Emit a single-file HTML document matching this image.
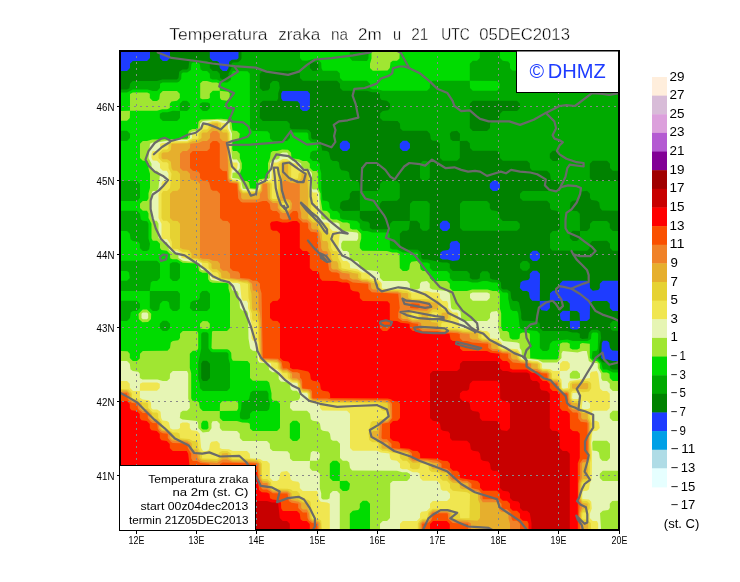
<!DOCTYPE html>
<html><head><meta charset="utf-8"><style>
html,body{margin:0;padding:0;background:#fff;}
svg{display:block;}
text{font-family:"Liberation Sans",sans-serif;fill:#000;}
.dh{stroke:none;}
.ax{font-size:11px;}
.cb{font-size:12.4px;}
.lg{font-size:10.2px;}
.dh{font-size:20.5px;fill:#1e3cff;}
.tt{font-size:16px;stroke:#fff;stroke-width:0.35px;}
</style></head><body>
<svg width="740" height="582" viewBox="0 0 740 582">
<rect width="740" height="582" fill="#fff"/>
<text x="169.3" y="39.8" class="tt" textLength="98.2" lengthAdjust="spacingAndGlyphs">Temperatura</text><text x="278.2" y="39.8" class="tt" textLength="42.0" lengthAdjust="spacingAndGlyphs">zraka</text><text x="330.9" y="39.8" class="tt" textLength="17.0" lengthAdjust="spacingAndGlyphs">na</text><text x="357.9" y="39.8" class="tt" textLength="23.7" lengthAdjust="spacingAndGlyphs">2m</text><text x="393.1" y="39.8" class="tt" textLength="8.1" lengthAdjust="spacingAndGlyphs">u</text><text x="411.3" y="39.8" class="tt" textLength="17.0" lengthAdjust="spacingAndGlyphs">21</text><text x="441.3" y="39.8" class="tt" textLength="28.4" lengthAdjust="spacingAndGlyphs">UTC</text><text x="479.2" y="39.8" class="tt" textLength="90.7" lengthAdjust="spacingAndGlyphs">05DEC2013</text>
<svg x="121" y="52" width="497" height="477" viewBox="121 52 497 477" overflow="hidden">
<rect x="120" y="51" width="500" height="480" fill="#1e3cff"/><path fill="#008200" fill-rule="evenodd" d="M120.0 71.0 120.0 530.8 619.8 530.8 619.8 361.0 612.8 361.0 607.5 359.5 602.8 359.5 601.2 358.0 601.8 343.2 603.0 340.8 607.0 340.8 609.2 342.5 610.0 348.0 612.2 350.5 619.8 350.8 619.8 311.0 612.8 311.0 609.8 308.0 609.8 303.8 607.0 301.0 592.8 301.0 590.0 303.8 589.8 318.5 587.0 321.0 580.0 321.0 579.5 313.2 577.0 311.0 569.8 310.8 569.8 303.8 567.0 301.0 549.8 300.8 550.0 293.2 552.8 290.8 558.2 290.0 559.8 288.0 559.8 283.8 562.8 280.8 587.0 280.8 589.8 283.2 590.0 288.0 592.8 290.8 598.2 290.0 599.8 288.0 599.8 283.8 602.8 280.8 619.8 280.8 619.8 51.0 238.5 51.0 238.5 58.0 237.0 59.5 231.8 59.8 229.2 61.8 228.5 68.0 226.8 71.0 222.8 71.0 219.8 68.0 219.0 62.5 217.0 61.0 212.8 61.0 209.8 58.0 209.8 51.0 170.0 51.0 170.0 58.0 167.0 61.0 162.8 61.0 159.8 58.0 159.8 51.0 150.0 51.0 150.0 58.0 147.0 61.0 132.8 61.0 130.0 63.8 130.0 68.0 127.0 71.0ZM569.8 321.0 579.8 320.8 580.0 328.0 577.2 329.5 572.5 329.5 570.0 328.2ZM562.8 310.8 570.0 311.0 569.8 321.0 562.8 321.0 560.5 319.2 559.8 313.8ZM539.8 301.0 549.8 300.8 550.0 308.0 547.0 311.0 541.5 310.2 539.8 308.0ZM532.8 270.8 537.0 270.8 540.0 273.8 539.8 301.0 532.2 300.8 529.8 298.0 529.0 292.5 527.0 291.0 522.8 291.0 519.8 288.0 520.5 282.5 522.8 280.8 528.2 280.0 529.8 278.0 529.8 273.8ZM532.8 250.8 537.0 250.8 540.0 253.8 540.0 258.0 537.0 261.0 532.8 261.0 529.8 258.0 529.8 253.8ZM460.0 243.8 460.0 258.0 458.2 260.2 452.8 261.0 447.5 259.5 442.5 259.5 439.8 258.0 440.5 252.5 442.8 250.8 448.2 250.0 449.8 248.0 449.8 243.8 451.5 241.5 457.0 240.8ZM442.8 220.8 447.0 220.8 450.0 223.8 450.0 228.0 447.0 231.0 442.8 231.0 439.8 228.0 439.8 223.8ZM492.8 180.8 497.0 180.8 500.0 183.8 500.0 188.0 497.0 191.0 492.8 191.0 489.8 188.0 489.8 183.8ZM402.8 140.8 407.0 140.8 410.0 143.8 410.0 148.0 407.0 151.0 402.8 151.0 399.8 148.0 399.8 143.8ZM342.8 140.8 347.0 140.8 350.0 143.8 350.0 148.0 347.0 151.0 342.8 151.0 339.8 148.0 339.8 143.8ZM282.5 91.0 307.5 91.0 310.0 93.8 309.8 108.5 307.0 111.0 302.8 111.0 300.0 108.5 299.8 103.8 297.5 101.2 282.8 101.0 281.2 98.2 281.2 93.5Z"/>
<path fill="#00aa00" fill-rule="evenodd" d="M610.0 323.8 610.8 329.2 612.8 330.8 619.8 330.8 619.8 321.0 612.8 321.0ZM522.8 261.0 520.0 263.8 520.0 268.0 522.8 270.8 527.0 270.8 529.8 268.0 529.8 263.8 527.0 261.0ZM460.0 203.8 460.0 228.0 462.8 230.8 517.0 230.8 519.8 228.0 519.8 223.8 517.0 221.0 502.8 221.0 499.8 218.0 499.0 212.5 497.0 211.0 491.5 210.2 489.8 208.0 489.8 203.8 487.0 201.0 462.8 201.0ZM422.8 161.0 420.0 163.8 420.0 178.0 422.8 180.8 427.0 180.8 429.8 178.0 429.8 163.8 427.0 161.0ZM120.0 89.5 120.0 530.8 619.8 530.8 619.8 369.5 612.8 369.5 610.2 368.2 609.8 363.8 607.2 362.5 602.8 362.5 598.2 358.0 599.8 343.2 601.2 338.0 600.5 331.8 597.2 329.5 591.8 329.8 588.8 332.8 588.0 338.5 582.2 339.0 579.8 337.8 579.8 333.8 577.2 332.5 572.2 332.5 567.0 331.0 542.8 331.0 539.8 328.0 539.8 323.8 537.5 321.2 522.5 320.8 521.2 318.2 521.2 313.2 519.0 302.5 517.0 301.0 512.8 301.0 511.2 298.2 510.5 291.8 507.2 289.5 502.8 289.5 501.2 288.0 501.0 282.8 499.0 280.2 492.5 279.5 490.0 278.2 489.8 273.8 487.5 271.2 482.2 271.2 480.0 273.8 479.8 278.2 477.2 279.5 472.5 279.5 469.8 278.0 469.8 273.8 467.0 271.0 452.8 271.0 449.8 268.0 449.8 263.8 447.2 262.5 442.2 262.5 427.5 259.5 422.8 259.5 421.2 258.0 421.0 252.8 418.0 249.8 402.8 249.5 400.2 248.2 399.8 233.8 402.8 230.8 407.0 230.8 409.0 229.2 410.0 220.8 417.0 220.8 420.0 223.8 420.0 228.0 422.8 230.8 427.0 230.8 429.5 228.5 429.8 203.8 427.0 201.0 412.8 201.0 410.0 203.8 409.8 221.0 392.8 221.0 390.0 223.8 390.0 228.0 388.0 229.2 372.5 229.5 369.8 228.0 369.8 223.8 368.2 221.8 362.8 221.0 359.8 218.0 359.8 211.0 377.0 210.8 379.5 208.5 379.8 203.8 382.2 201.0 397.0 200.8 399.8 198.0 399.8 183.8 397.0 181.0 382.8 181.0 380.0 183.8 379.8 188.5 377.0 191.0 360.0 191.0 359.0 182.5 357.0 181.0 351.5 180.2 349.8 178.0 349.0 172.5 347.0 171.0 341.5 170.2 339.8 168.0 339.0 162.5 337.0 161.0 332.8 161.0 330.5 159.2 329.0 152.5 327.0 151.0 322.2 150.5 320.5 141.8 317.2 139.5 312.8 139.5 311.2 138.0 311.0 132.8 309.0 130.2 307.2 129.5 291.8 129.2 289.8 128.0 289.8 123.8 287.0 121.0 262.8 121.0 259.8 118.0 260.0 103.2 262.8 100.8 277.0 100.8 278.2 98.2 278.2 93.2 279.8 88.0 279.0 82.5 277.0 81.0 272.8 81.0 270.0 83.8 270.0 88.0 268.2 90.2 262.8 91.0 259.8 88.0 259.8 73.8 262.8 70.8 297.0 70.8 299.8 73.2 300.0 78.0 302.8 80.8 337.0 80.8 340.0 83.8 340.0 88.0 342.8 90.8 367.0 90.8 372.2 92.2 377.2 92.2 380.0 93.8 380.0 98.0 381.5 100.0 387.0 100.8 390.0 103.8 390.0 108.0 388.2 110.2 382.8 111.0 380.2 113.2 380.0 118.0 382.8 120.8 397.5 121.0 400.0 123.8 400.2 128.5 402.8 130.8 427.0 130.8 430.0 133.8 430.8 139.2 432.8 140.8 437.0 140.8 440.0 143.8 440.0 158.0 442.8 160.8 457.0 160.8 459.8 158.0 459.8 141.0 467.0 140.8 469.8 143.2 470.0 148.0 472.8 150.8 497.0 150.8 499.8 153.2 500.0 158.0 502.8 160.8 527.0 160.8 529.8 163.2 530.0 168.0 532.2 170.5 547.0 170.8 550.0 173.8 550.8 179.2 552.8 180.8 557.0 180.8 559.8 183.2 560.0 188.0 557.0 191.0 522.8 191.0 520.0 193.8 520.0 198.0 522.8 200.8 547.0 200.8 550.0 203.8 550.0 208.0 551.5 210.0 557.0 210.8 559.8 213.2 560.0 228.0 557.5 230.8 552.8 231.0 550.0 233.8 550.0 248.0 552.2 250.5 587.0 250.8 589.5 248.5 589.8 243.8 592.2 241.0 607.0 240.8 610.0 243.8 610.0 248.0 612.8 250.8 619.8 250.8 619.8 231.0 612.8 231.0 609.8 228.0 609.8 223.8 607.0 221.0 592.8 221.0 590.0 223.8 590.0 228.0 587.0 231.0 580.0 231.0 579.8 213.8 577.0 211.0 572.2 210.8 569.8 208.0 570.5 202.5 572.8 200.8 578.2 200.0 579.8 198.0 579.8 193.8 581.5 191.5 587.0 190.8 590.0 193.8 590.0 198.0 591.5 200.0 597.0 200.8 599.2 202.5 600.0 208.0 602.2 210.5 619.8 210.8 619.8 181.0 592.8 181.0 589.8 178.0 589.8 163.8 592.8 160.8 607.0 160.8 610.0 163.8 610.0 168.0 612.8 170.8 619.8 170.8 619.8 51.0 241.5 51.0 241.5 58.2 240.8 60.0 238.0 62.2 232.8 62.5 231.5 63.8 231.5 68.0 228.5 73.8 228.5 78.0 227.0 79.5 222.8 79.5 220.2 78.2 219.8 73.8 217.0 71.0 212.8 71.0 209.8 68.0 209.8 63.8 207.0 61.0 192.5 59.5 189.2 61.8 188.5 68.0 187.0 69.5 182.5 69.5 179.2 71.8 178.5 78.0 177.0 79.5 162.2 79.5 157.0 81.0 132.8 81.0 130.0 83.8 129.5 88.2 127.0 89.5ZM202.8 360.8 207.0 360.8 210.0 363.8 210.0 378.0 207.0 381.0 202.8 381.0 201.2 378.2 201.2 363.5ZM572.8 230.8 580.0 231.0 580.0 238.0 577.0 241.0 572.8 241.0 569.8 238.0 569.8 233.8ZM359.8 190.8 360.0 210.8 342.8 211.0 339.8 208.0 340.5 202.5 342.8 200.8 348.2 200.0 349.8 198.0 349.8 193.8 352.2 191.0ZM552.8 150.8 557.0 150.8 560.0 153.8 560.0 158.0 557.0 161.0 552.8 161.0 549.8 158.0 549.8 153.8ZM451.5 131.5 457.0 130.8 460.0 133.8 459.8 141.0 452.8 141.0 450.5 139.2 449.8 133.8ZM469.8 128.0 469.8 103.8 472.8 100.8 517.0 100.8 520.0 103.8 520.0 108.0 517.0 111.0 502.8 111.0 500.0 113.8 499.2 119.2 497.0 121.0 491.5 121.8 490.0 123.8 490.0 128.0 487.0 131.0 472.8 131.0ZM310.0 63.5 312.5 62.2 317.0 62.2 318.5 63.8 318.5 68.2 317.5 70.5 312.8 71.0 309.8 68.0Z"/>
<path fill="#00dc00" fill-rule="evenodd" d="M120.0 271.0 120.0 280.8 127.0 280.8 129.8 278.0 129.0 272.5 127.0 271.0ZM120.0 92.5 120.0 130.8 127.0 130.8 130.0 133.8 130.0 138.0 127.0 141.0 120.0 141.0 120.0 180.8 137.0 180.8 140.0 183.8 140.0 198.0 137.0 201.0 120.0 201.0 120.0 210.8 137.0 210.8 140.0 213.8 140.8 219.2 142.8 220.8 147.2 221.2 148.5 223.8 148.5 238.5 150.0 243.8 149.2 249.2 147.0 251.0 142.8 251.0 139.8 248.0 139.8 243.8 138.2 241.8 132.8 241.0 130.5 239.2 129.8 233.8 127.0 231.0 120.0 231.0 120.0 260.8 157.0 260.8 160.0 263.8 160.0 278.0 157.0 281.0 152.8 281.0 150.8 282.5 149.8 291.0 120.0 291.0 120.0 300.8 137.0 300.8 140.0 303.8 140.0 308.0 137.0 311.0 132.8 311.0 130.8 312.5 130.0 318.0 127.0 321.0 120.0 321.0 120.0 530.8 619.8 530.8 619.8 372.5 612.8 372.5 607.0 369.5 602.8 369.5 601.0 362.8 597.0 359.0 592.8 359.0 591.8 358.0 592.5 351.2 596.8 350.8 597.8 348.5 598.2 333.8 597.0 332.5 592.8 332.5 591.5 333.8 591.0 339.0 587.5 341.0 572.8 341.0 567.5 339.5 552.8 341.0 550.0 343.8 549.2 349.2 547.0 351.0 542.8 351.0 539.8 348.0 539.8 333.8 537.0 331.0 522.5 329.5 519.8 328.0 518.2 313.5 517.0 311.0 512.8 311.0 510.5 309.2 508.2 298.5 508.2 293.8 507.0 292.5 502.8 292.5 498.2 288.0 498.2 283.8 497.0 282.5 492.2 282.5 487.0 281.0 482.8 281.0 477.5 282.5 472.2 282.5 467.0 281.0 452.8 281.0 449.8 278.0 449.8 273.8 447.0 271.0 432.8 271.0 429.8 268.0 429.8 263.8 427.2 262.5 422.8 262.5 418.2 258.0 418.2 253.8 417.0 252.5 402.8 252.5 397.0 249.5 392.5 249.5 390.0 248.2 389.5 233.5 387.2 232.5 372.2 232.5 367.0 231.0 362.8 231.0 359.8 228.0 359.8 223.8 357.0 221.0 342.8 219.5 340.2 218.2 339.8 213.8 337.0 211.0 332.8 211.0 329.8 208.0 329.0 202.5 327.0 201.0 322.5 200.5 321.2 188.5 321.2 173.2 319.8 168.0 319.8 163.8 317.0 161.0 312.8 161.0 309.8 158.0 310.5 152.5 312.8 150.8 317.2 150.5 318.2 148.2 318.2 143.8 317.0 142.5 310.8 141.8 308.5 139.0 308.2 133.8 307.0 132.5 292.5 132.5 290.0 133.8 290.0 138.0 287.0 141.0 272.8 141.0 270.0 138.5 269.8 133.8 267.5 131.2 252.8 131.0 250.0 128.5 249.8 73.8 247.5 71.2 233.0 71.0 231.5 73.8 230.8 80.0 227.2 82.5 222.8 82.5 217.0 79.5 212.5 79.5 210.0 78.2 209.8 73.8 207.0 71.0 202.8 71.0 200.5 69.2 199.8 63.8 197.2 62.5 192.8 62.5 191.5 63.8 190.8 70.0 187.2 72.5 182.8 72.5 181.5 73.8 181.2 79.0 179.0 81.8 177.2 82.5 162.5 82.5 160.0 83.8 160.0 88.0 157.0 91.0 152.8 91.0 147.5 89.5 132.8 89.5 127.0 92.5ZM267.0 390.8 268.5 393.5 268.5 398.5 270.0 403.8 269.2 409.2 267.0 411.0 252.8 411.0 250.0 413.8 250.0 418.0 247.2 419.5 242.5 419.5 240.0 418.2 239.8 413.8 241.2 408.5 241.5 402.8 242.8 400.8 247.0 400.8 249.0 399.2 250.5 392.5 252.8 390.8ZM202.8 332.2 207.0 332.2 208.5 333.8 208.5 348.2 210.8 351.5 212.5 352.2 227.0 352.2 228.5 353.8 228.5 358.5 230.0 363.8 230.0 388.0 227.0 391.0 202.8 391.0 199.8 388.0 199.8 383.8 198.2 378.5 198.2 363.2 201.2 348.5 201.2 333.8ZM162.8 320.8 167.0 320.8 170.0 323.8 170.0 328.0 167.0 331.0 162.8 331.0 159.8 328.0 159.8 323.8ZM210.0 293.8 210.0 308.0 207.0 311.0 192.8 311.0 189.8 308.0 190.5 302.5 192.8 300.8 198.2 300.0 199.8 298.0 199.8 293.8 202.2 291.0 207.0 290.8ZM149.8 291.0 177.5 291.0 180.0 293.8 179.8 308.5 177.0 311.0 172.8 311.0 169.8 308.0 169.0 302.5 167.0 301.0 162.8 301.0 160.0 303.8 159.2 309.2 157.0 311.0 152.8 311.0 149.8 308.0ZM172.5 262.2 177.0 262.2 180.0 264.0 180.0 278.0 177.0 281.0 172.8 281.0 169.8 278.0 169.8 263.8ZM180.0 111.0 180.0 118.0 177.0 121.0 162.8 121.0 159.8 118.0 159.8 113.8 162.5 112.2 167.5 112.2 172.8 110.8ZM199.8 103.8 202.5 102.2 208.0 102.5 210.0 103.8 210.0 108.0 207.0 111.0 202.8 111.0 199.8 108.0ZM182.8 100.8 187.0 100.8 190.0 103.8 190.0 108.0 187.0 111.0 179.8 110.8 179.8 103.8ZM500.0 51.0 500.0 58.0 502.8 60.8 508.2 61.5 510.0 63.8 510.0 68.0 512.2 70.5 517.0 70.8 519.8 68.0 519.8 51.0ZM300.0 51.0 300.0 58.0 302.2 60.5 307.0 60.8 312.2 59.2 318.0 59.5 321.2 62.8 321.5 68.2 322.8 70.8 337.0 70.8 339.8 73.2 340.0 78.0 342.8 80.8 367.0 80.8 370.0 83.8 370.0 88.0 372.5 89.2 377.5 89.2 382.8 90.8 427.0 90.8 429.8 88.0 430.0 83.2 432.8 80.8 469.8 80.8 470.0 88.0 472.8 90.8 497.0 90.8 499.8 88.0 499.8 83.8 497.0 81.0 469.8 80.8 469.8 63.8 472.8 60.8 477.0 60.8 479.8 58.0 479.8 51.0 368.5 51.0 368.5 58.2 367.0 61.0 352.2 60.8 349.8 58.0 349.8 51.0Z"/>
<path fill="#a0e632" fill-rule="evenodd" d="M200.0 323.8 200.0 328.0 200.8 328.8 207.8 329.2 209.8 328.0 209.8 323.8 207.5 321.2 202.8 321.0ZM142.8 309.5 138.5 313.8 138.8 319.0 142.5 322.2 148.0 322.0 151.0 319.0 151.2 313.8 147.0 309.5ZM140.0 143.8 140.0 158.0 142.8 160.8 146.8 160.8 148.5 163.8 148.5 168.5 150.0 173.8 150.0 188.0 148.5 193.2 148.5 198.2 147.0 201.0 142.8 201.0 140.0 203.8 140.0 208.0 142.8 210.8 147.0 210.8 148.5 213.5 148.5 218.0 151.5 223.8 151.5 238.2 152.8 240.8 157.0 240.8 160.0 243.8 160.0 248.0 161.5 250.0 166.8 250.8 170.0 254.0 170.2 258.2 172.5 259.2 177.0 259.2 182.8 262.8 197.8 263.5 199.0 271.0 202.5 272.8 207.0 272.8 208.0 273.8 208.2 279.2 209.8 281.8 212.5 282.8 226.8 283.0 228.5 284.0 228.5 288.5 230.0 293.8 230.0 328.0 227.0 331.0 212.8 331.0 212.0 331.8 211.5 348.0 212.8 349.2 227.2 349.2 229.0 350.0 231.2 352.8 231.5 358.2 232.8 360.8 247.5 361.0 250.0 363.8 250.0 378.0 252.8 380.8 267.0 380.8 269.2 382.5 271.5 393.2 271.5 398.2 272.8 400.8 277.0 400.8 280.0 403.8 280.0 428.0 277.0 431.0 252.8 431.0 250.0 428.5 249.8 423.8 248.0 422.8 242.2 422.5 237.0 421.0 222.8 421.0 219.8 418.0 219.8 411.0 237.0 410.8 238.2 408.2 238.2 403.5 237.0 401.0 222.2 401.2 220.0 403.8 219.8 411.0 202.8 411.0 199.8 408.0 199.0 402.5 197.0 401.0 192.5 400.8 191.2 398.2 191.2 373.2 189.8 368.0 189.8 353.8 192.8 350.8 197.0 350.8 198.2 348.2 198.2 333.0 197.0 331.0 182.8 331.0 180.0 333.8 180.0 338.0 178.2 340.2 172.8 341.0 170.8 342.5 170.0 348.0 167.5 350.8 142.8 351.0 140.0 353.8 139.8 358.5 137.0 361.0 132.8 361.0 129.8 358.0 129.8 353.8 127.5 351.2 120.0 351.0 120.0 530.8 349.8 530.8 349.8 513.8 352.8 510.8 358.2 510.0 359.8 508.0 359.8 503.8 362.8 500.8 367.0 500.8 370.0 503.8 370.0 530.8 619.8 530.8 619.8 381.0 612.8 381.0 609.8 378.0 609.5 373.8 607.0 372.5 602.8 372.5 599.8 368.0 599.8 363.8 597.0 361.0 592.8 361.0 589.8 358.0 589.8 343.8 582.2 343.0 580.0 344.0 579.8 348.2 577.2 349.5 572.5 349.5 569.8 348.0 569.8 343.8 567.2 342.5 562.5 342.5 560.0 343.8 558.5 358.0 557.0 359.5 542.5 359.5 530.2 358.2 529.8 333.8 527.2 332.5 522.5 332.5 520.0 333.8 519.5 338.5 517.2 339.5 512.5 339.5 509.8 338.0 509.0 332.5 507.0 331.0 502.8 331.0 501.2 328.2 501.2 313.2 499.8 308.0 499.8 293.8 497.0 291.0 492.8 291.0 487.5 289.5 472.2 289.5 467.0 291.0 452.8 291.0 449.8 288.0 449.8 283.8 447.0 281.0 432.8 281.0 429.8 278.0 429.8 273.8 427.0 271.0 422.8 271.0 420.5 269.2 419.8 263.8 417.0 261.0 411.5 261.8 410.0 263.8 409.2 269.2 407.0 271.0 402.8 271.0 399.8 268.0 399.5 253.8 397.0 252.5 392.2 252.5 387.0 251.0 362.2 250.8 359.8 248.0 359.8 243.8 361.2 238.5 361.2 233.8 357.0 229.5 352.5 229.5 350.0 228.2 349.8 223.8 347.2 222.5 342.8 222.5 337.0 219.5 332.8 219.5 330.2 218.2 329.8 213.8 327.0 211.0 322.5 210.5 320.5 198.8 320.5 193.5 318.2 188.0 318.2 173.5 317.0 171.0 313.0 171.0 309.8 167.8 309.8 163.8 307.0 161.0 302.8 161.0 299.0 159.2 291.5 158.2 291.0 152.8 288.0 149.8 282.2 149.5 277.0 151.0 272.8 151.0 270.8 152.5 270.0 158.0 268.0 163.2 268.0 178.0 259.2 179.2 257.8 181.5 257.5 188.0 256.8 188.8 250.2 188.2 249.0 182.5 247.0 181.0 243.0 181.0 239.8 177.8 239.8 173.8 241.8 168.5 241.8 163.2 239.8 158.0 239.8 153.8 237.0 151.0 233.0 151.0 232.2 149.0 232.5 141.2 237.0 140.8 239.0 139.2 239.8 133.8 237.0 131.0 232.5 130.5 231.5 122.5 229.0 119.5 221.0 118.8 200.8 119.5 198.5 121.8 198.0 128.0 197.0 129.0 192.5 129.0 189.0 130.8 188.0 133.5 188.0 138.0 186.8 138.8 152.2 139.5 147.0 141.0 142.8 141.0ZM339.8 481.0 347.0 480.8 350.0 483.8 349.2 489.2 347.0 491.0 342.8 491.0 339.8 488.0ZM332.8 460.8 337.0 460.8 340.0 463.8 339.8 481.0 332.8 481.0 329.8 478.0 329.8 463.8ZM292.8 420.8 297.0 420.8 300.0 423.8 300.0 438.0 297.0 441.0 292.8 441.0 289.8 438.0 289.8 423.8ZM202.8 420.8 207.0 420.8 208.2 422.8 208.5 428.0 207.0 429.5 202.8 429.5 201.2 428.0 201.2 423.5ZM179.8 93.8 177.0 91.0 162.8 91.0 160.0 93.8 159.2 99.2 157.0 101.0 152.8 101.0 149.8 98.0 149.8 93.8 147.2 92.5 132.8 92.5 130.0 94.0 130.0 110.8 120.0 111.0 120.0 120.8 127.0 120.8 129.8 118.0 130.0 110.8 157.0 110.8 162.2 109.2 167.2 109.2 169.8 108.0 169.8 103.8 171.5 101.5 177.0 100.8 179.8 98.0ZM200.2 83.2 200.2 98.2 202.5 99.2 208.0 99.0 209.8 98.0 209.8 93.8 212.8 90.8 219.8 90.8 220.0 98.0 221.5 100.0 227.0 100.8 229.5 98.5 229.8 93.8 228.2 91.8 219.8 90.8 219.5 83.8 217.0 82.5 212.2 82.5 207.0 81.0 202.8 81.0ZM370.0 68.0 372.8 70.8 387.5 70.5 389.8 68.0 390.5 62.5 392.8 60.8 397.0 60.8 399.5 58.5 399.8 51.0 371.5 51.0 371.5 58.5 370.0 63.8Z"/>
<path fill="#e6f5b4" fill-rule="evenodd" d="M120.0 361.0 120.0 530.8 339.8 530.8 339.8 493.8 337.0 491.0 332.8 491.0 330.0 493.8 329.5 498.5 327.2 499.5 322.8 499.5 321.2 498.0 321.2 493.2 319.8 488.0 319.8 473.8 317.0 471.0 312.2 470.8 309.8 468.0 310.0 460.8 317.0 460.8 319.5 458.5 319.8 453.8 318.2 451.8 312.8 451.0 310.8 452.5 309.8 461.0 292.8 461.0 290.0 458.5 289.8 453.8 287.5 451.2 272.8 451.0 270.0 448.5 269.8 443.8 267.0 441.0 242.8 441.0 239.8 438.0 239.8 433.8 237.0 431.0 222.2 430.8 219.8 428.0 219.8 423.8 217.0 421.0 212.5 421.2 211.5 423.5 211.5 428.2 209.0 431.8 202.8 432.5 198.2 428.0 198.2 423.5 197.0 421.0 182.5 419.5 179.8 418.0 180.5 412.5 182.8 410.8 187.0 410.8 189.8 408.0 189.8 403.8 188.2 398.5 188.2 373.5 187.0 371.0 172.8 371.0 170.0 373.8 169.8 378.5 167.0 381.0 162.8 381.0 157.5 379.5 142.5 379.5 139.8 378.0 139.8 373.8 138.2 371.8 132.8 371.0 130.5 369.2 129.8 363.8 127.0 361.0ZM142.8 312.5 141.5 313.8 141.5 318.0 142.8 319.2 147.0 319.2 148.2 318.0 148.2 313.8 147.0 312.5ZM470.0 293.8 470.0 298.0 472.8 300.8 487.0 300.8 489.8 298.0 489.8 293.8 487.2 292.5 472.5 292.5ZM150.0 143.8 148.5 158.0 151.5 163.8 151.5 168.2 152.8 170.8 157.0 170.8 160.0 173.8 158.5 188.0 156.8 191.0 152.8 191.0 151.5 193.5 151.5 198.5 150.0 203.8 151.5 218.0 153.0 220.8 156.8 220.8 158.5 223.8 158.5 238.0 162.8 242.2 167.0 242.2 169.0 249.8 172.8 252.8 178.2 253.5 178.5 258.0 182.8 260.8 198.2 262.5 200.0 263.8 200.0 268.0 201.5 270.0 207.0 270.8 210.0 273.8 210.0 278.0 211.5 280.0 230.0 283.0 231.5 284.0 231.5 288.2 232.8 290.8 237.2 291.0 238.5 293.5 240.0 308.0 242.8 310.8 246.8 310.8 248.0 313.5 248.5 338.5 250.2 348.5 252.8 350.8 257.2 351.2 257.8 360.2 259.2 362.5 268.0 363.5 269.2 370.0 272.5 372.2 277.0 372.2 278.5 373.8 278.8 379.0 280.8 381.5 287.0 382.2 289.5 383.5 290.8 389.2 292.8 390.8 296.8 390.8 300.0 394.0 300.0 398.0 298.2 400.2 292.8 401.0 290.2 403.2 290.0 408.0 292.8 410.8 307.0 410.8 310.0 413.8 310.8 419.2 312.8 420.8 318.2 421.5 320.0 423.8 320.8 429.2 322.8 430.8 328.2 431.5 330.0 433.8 330.8 439.2 332.8 440.8 337.0 440.8 340.0 443.8 340.0 458.0 342.8 460.8 347.0 460.8 349.2 462.5 350.0 468.0 352.2 470.5 397.0 470.8 402.2 472.2 407.0 472.2 410.0 474.0 410.0 478.0 407.0 481.0 392.8 481.0 390.2 483.2 390.0 518.0 387.0 521.0 382.8 521.0 380.0 523.8 380.0 530.8 601.2 530.8 600.0 513.2 602.8 510.8 608.2 510.0 609.8 508.0 609.8 503.8 612.2 501.0 619.8 500.8 619.8 481.0 602.8 481.0 599.8 478.0 599.8 473.8 602.8 470.8 619.8 470.8 619.8 421.0 612.8 421.0 609.8 418.0 609.8 413.8 612.8 410.8 619.8 410.8 619.8 391.0 612.8 391.0 609.8 388.0 609.8 383.8 607.0 381.0 602.5 380.8 601.2 378.2 601.2 373.8 597.8 368.0 597.8 363.8 597.0 363.0 591.5 362.8 588.8 361.0 586.8 351.0 582.8 351.0 577.5 352.5 562.8 351.0 561.5 353.5 561.5 358.0 557.0 362.5 542.8 362.5 538.2 360.0 522.0 358.0 521.5 350.5 519.8 348.0 519.5 343.5 517.2 342.5 503.0 341.0 499.8 337.8 499.8 333.8 498.2 328.5 498.2 313.5 497.0 311.0 491.5 311.8 490.0 313.8 490.0 318.0 487.0 321.0 462.8 321.0 461.2 318.2 460.5 311.8 458.0 309.8 452.8 309.5 451.2 308.0 449.8 293.8 447.0 291.0 432.5 289.5 429.8 288.0 429.8 283.8 427.0 281.0 421.5 281.8 420.0 283.8 419.8 288.2 417.2 289.5 412.8 289.5 409.8 287.8 409.8 283.8 407.0 281.0 383.0 281.0 379.8 277.8 379.8 273.8 377.5 271.2 362.8 269.5 360.2 268.2 359.0 262.5 357.0 261.0 352.8 261.0 349.8 258.0 349.0 252.5 347.0 251.0 343.0 251.0 341.2 248.0 341.2 243.5 342.8 240.8 357.0 240.8 358.2 238.2 358.2 233.8 357.0 232.5 342.8 231.0 339.8 228.0 339.5 223.8 337.0 222.5 332.8 222.5 327.0 219.5 322.8 219.5 321.2 218.0 321.2 213.8 319.8 208.5 319.0 193.5 317.0 189.5 312.8 189.5 312.0 188.2 312.0 173.8 311.2 172.0 307.8 169.0 301.5 168.2 301.2 163.8 297.2 161.0 292.8 161.0 288.2 157.8 288.2 153.8 287.0 152.5 282.5 152.5 280.0 153.8 279.5 158.2 277.0 159.5 272.8 159.5 270.0 163.5 270.0 178.0 267.2 179.5 260.8 180.2 258.8 182.8 258.5 188.0 257.0 189.8 242.8 188.8 241.0 180.8 238.0 178.8 232.2 178.0 232.5 172.8 237.0 172.2 239.8 168.2 239.8 163.5 237.0 159.5 232.8 159.5 232.0 157.8 231.2 149.0 232.0 133.8 229.8 128.0 229.8 123.8 227.0 121.0 217.2 119.8 202.8 121.0 200.0 123.8 200.0 128.0 197.0 131.0 191.5 131.8 190.0 133.8 190.0 138.0 187.2 139.8 172.5 139.8 157.0 142.5 152.5 142.5ZM593.0 440.8 607.0 440.8 610.0 443.8 610.0 458.0 607.0 461.0 602.2 460.8 599.8 458.0 599.0 452.5 597.0 451.0 592.5 450.5 592.2 442.8ZM569.8 373.8 572.8 370.8 577.0 370.8 580.0 373.8 580.0 377.8 577.5 378.8 570.8 378.5 569.8 377.8Z"/>
<path fill="#f0e650" fill-rule="evenodd" d="M120.0 381.0 120.0 530.8 329.8 530.8 329.8 503.8 327.2 502.5 320.8 501.8 318.5 499.0 318.2 493.5 317.0 491.0 302.8 491.0 299.8 488.0 299.8 483.8 298.2 481.8 292.8 481.0 290.5 479.2 289.8 473.8 287.0 471.0 281.5 471.8 280.0 473.8 279.2 479.2 277.0 481.0 273.0 481.0 269.8 477.8 269.8 463.8 267.0 461.0 263.0 461.0 260.0 459.0 250.2 458.2 249.8 453.8 247.0 451.0 232.8 451.0 229.0 449.2 222.0 449.0 219.8 448.0 219.8 443.8 217.0 441.0 211.5 441.8 210.0 443.8 209.2 449.2 207.0 451.0 203.0 451.0 201.2 448.0 199.8 433.8 197.0 431.0 191.5 430.2 189.8 428.0 189.8 423.8 187.2 422.5 182.5 422.5 180.0 423.8 180.0 428.0 178.0 429.2 172.8 429.5 170.2 428.2 169.0 422.5 167.0 421.0 162.5 420.5 161.2 418.0 160.5 411.8 157.2 409.5 152.8 409.5 151.2 408.0 151.0 402.8 149.0 400.2 142.8 399.5 139.8 397.8 140.0 390.8 157.0 390.8 159.8 388.0 159.8 383.8 157.2 382.5 142.5 382.5 140.0 383.8 139.8 391.0 133.0 391.0 129.8 387.8 129.8 383.8 127.0 381.0ZM152.8 151.0 151.5 153.5 151.5 158.0 152.8 160.5 157.0 160.8 160.0 163.8 160.0 168.0 162.8 170.8 166.8 170.8 168.5 173.8 168.5 178.2 167.0 181.0 162.8 181.0 161.5 183.5 161.5 188.0 158.5 193.8 158.5 218.0 161.5 223.8 161.5 238.0 162.8 239.2 167.0 239.2 170.0 243.5 170.5 248.8 172.8 250.8 177.0 250.8 181.2 253.5 181.5 258.0 187.0 258.8 192.2 260.8 197.0 260.8 201.8 263.5 202.0 268.0 208.0 269.5 212.0 273.8 212.0 278.0 212.8 278.8 217.0 278.8 222.2 280.8 227.2 280.8 232.8 283.0 237.5 283.0 240.0 284.0 241.5 298.2 242.8 300.8 246.8 300.8 248.0 303.2 248.0 308.0 250.0 313.5 250.0 318.5 251.5 323.8 251.5 338.2 252.8 340.8 257.2 341.2 259.2 360.0 262.5 362.2 267.5 362.2 271.0 363.5 271.5 368.0 272.8 369.2 276.8 369.2 281.5 374.0 281.5 378.0 282.8 379.2 287.0 379.2 291.2 382.5 297.0 383.0 297.8 384.0 297.8 388.5 299.0 391.0 301.5 392.8 306.8 393.0 307.8 394.0 308.5 401.5 311.2 403.0 319.5 403.5 320.0 408.0 322.2 410.5 347.0 410.8 350.0 413.8 350.0 448.0 352.8 450.8 377.0 450.8 380.8 452.5 389.5 453.5 390.0 458.0 391.5 460.0 397.0 460.8 400.0 463.8 400.0 468.0 402.5 469.2 407.0 469.2 412.8 472.2 417.2 472.2 419.5 473.2 420.0 478.0 422.8 480.8 437.0 480.8 440.0 483.8 440.8 489.2 442.8 490.8 447.0 490.8 450.0 493.8 450.0 498.0 447.0 501.0 432.8 501.0 430.0 503.8 430.0 507.8 426.8 511.0 421.5 511.8 420.0 513.8 420.0 517.8 416.8 521.0 402.8 521.0 400.0 523.8 400.0 530.8 598.2 530.8 598.2 523.5 597.0 521.0 592.8 521.0 589.8 518.0 589.8 513.8 591.8 508.5 591.2 501.8 589.0 499.5 582.8 499.0 582.2 498.2 582.5 491.2 587.0 490.8 589.0 489.2 589.8 483.8 591.8 478.5 592.0 452.5 591.2 442.8 592.5 431.2 597.0 430.8 599.8 428.0 599.0 422.5 597.0 421.0 592.5 420.5 591.8 412.8 592.8 410.8 607.0 410.8 609.8 408.0 609.8 393.8 607.0 391.0 602.8 391.0 600.0 388.5 598.2 373.8 596.8 371.0 591.5 371.8 590.0 373.8 590.0 378.0 569.8 381.0 568.0 383.5 568.0 388.0 563.0 388.8 562.0 387.8 561.5 379.8 559.8 377.8 559.8 371.0 567.0 370.8 569.8 368.0 569.8 363.8 567.5 361.2 562.8 361.0 560.0 363.8 559.8 371.0 553.0 371.0 550.0 369.0 543.0 368.8 541.8 368.0 541.8 363.8 538.0 361.2 522.8 359.5 521.0 358.5 520.2 352.8 517.5 349.2 502.0 348.2 501.8 343.8 500.8 342.0 497.0 339.0 490.2 338.2 489.8 333.8 487.0 331.0 482.8 331.0 477.5 329.0 460.2 328.2 458.2 318.5 458.2 313.8 457.0 312.5 452.8 312.5 448.2 308.0 448.2 303.5 447.0 301.0 442.8 301.0 439.8 298.0 439.8 293.8 437.2 292.5 432.2 292.5 427.0 291.0 412.8 292.5 407.0 289.0 383.0 288.8 381.8 288.0 381.8 283.8 380.8 282.0 377.0 279.0 370.2 278.2 369.8 273.8 367.2 272.5 362.8 272.5 357.0 269.0 350.2 268.2 349.8 263.8 347.0 261.0 343.0 261.0 341.2 258.0 341.2 253.8 338.2 248.0 339.8 233.8 337.0 231.0 332.8 231.0 329.8 228.0 329.5 223.8 327.0 222.5 322.8 222.5 318.2 218.0 317.5 193.5 317.0 192.5 312.8 192.5 310.8 189.0 310.5 173.8 308.2 171.0 299.2 169.2 298.2 168.0 298.2 163.8 292.8 163.0 287.0 159.0 282.8 159.0 277.0 162.5 272.8 162.5 272.0 163.8 271.5 179.0 269.5 180.2 262.8 180.5 261.0 181.5 259.5 183.8 259.5 188.0 257.0 191.0 242.8 190.2 241.2 188.0 241.2 183.8 240.2 181.8 237.0 179.5 232.8 179.5 231.2 178.0 232.0 170.8 233.0 169.2 237.0 169.2 237.8 163.8 237.0 162.5 233.0 162.5 231.0 158.5 230.5 133.5 227.8 128.0 227.8 123.8 227.0 123.0 222.8 123.0 217.5 121.0 212.2 121.0 207.0 123.0 202.8 123.0 201.2 129.0 197.0 133.0 192.8 133.0 192.0 133.8 192.0 138.0 187.0 141.0 172.2 141.0 167.0 143.0 162.2 143.0 160.0 144.0 160.0 148.0 157.0 151.0ZM582.5 401.0 587.0 400.8 590.0 403.8 590.0 408.0 588.0 409.0 582.8 409.0 581.8 408.0ZM572.5 393.0 577.5 392.8 579.5 393.5 580.0 398.0 578.0 399.0 572.8 399.0 572.0 397.8Z"/>
<path fill="#e6d232" fill-rule="evenodd" d="M120.0 388.8 120.0 530.8 322.0 530.8 321.2 520.8 318.8 519.0 312.8 518.8 312.0 518.0 310.5 501.8 308.0 499.8 302.8 499.5 300.2 498.2 299.8 493.8 297.0 491.0 292.8 491.0 291.0 489.5 287.5 488.8 272.2 488.5 270.8 482.0 267.0 479.0 262.8 479.0 262.0 477.8 262.0 463.8 260.0 461.0 257.0 459.8 247.2 458.8 232.5 458.8 231.2 458.0 231.2 453.8 227.2 451.0 222.2 451.0 219.8 452.0 218.5 453.8 218.5 458.0 217.0 459.0 202.2 458.5 201.8 453.8 198.2 448.0 198.2 443.5 197.0 441.0 192.8 441.0 189.2 439.0 180.2 438.2 179.5 433.5 177.2 432.5 172.8 432.5 167.0 428.8 162.8 428.8 161.5 422.2 158.2 418.0 158.2 413.8 157.0 412.5 152.8 412.5 148.2 408.0 148.2 403.8 147.0 402.5 142.8 402.5 138.5 399.2 132.8 398.8 132.0 398.0 131.8 393.0 128.8 389.5ZM158.5 153.8 158.5 158.0 162.8 162.2 167.0 162.2 168.5 163.8 168.5 168.0 171.5 173.8 170.0 188.0 167.0 191.0 163.0 191.0 161.5 193.8 161.5 218.0 163.0 220.8 167.0 220.8 170.0 223.8 170.0 238.0 171.8 241.8 172.0 248.0 172.8 248.8 177.8 249.0 182.8 252.2 187.0 252.2 188.5 253.8 188.5 257.8 190.8 259.0 197.0 259.5 202.8 262.8 207.5 263.0 208.5 263.8 208.5 268.0 212.8 272.2 217.0 272.2 218.5 273.8 219.0 278.2 222.2 279.5 227.0 279.5 232.8 281.5 237.2 281.5 248.0 283.8 248.5 298.0 250.0 303.2 250.0 308.2 252.0 313.8 252.0 318.5 253.0 320.8 256.8 320.8 257.8 323.2 257.8 338.2 258.8 342.5 259.5 358.0 260.5 359.8 262.8 361.2 277.0 363.0 277.8 363.8 277.8 368.0 282.8 373.0 287.5 373.2 288.0 378.0 292.8 381.5 297.0 381.5 298.2 382.8 298.8 388.0 300.8 390.8 302.8 392.0 307.0 392.0 308.5 393.2 309.0 398.8 312.0 401.8 322.5 403.0 379.5 403.5 380.8 409.2 382.8 410.8 387.2 411.2 387.8 418.0 387.0 418.8 379.5 419.2 377.0 421.0 372.8 421.0 370.8 422.5 368.5 433.2 369.2 440.0 372.5 442.2 377.0 442.2 378.5 443.8 378.5 448.0 382.5 450.8 387.0 450.8 392.8 453.0 399.5 453.5 400.0 458.0 402.8 460.8 406.8 460.8 410.0 464.0 410.0 467.8 412.8 469.2 417.2 469.2 419.5 468.2 420.2 463.5 428.2 463.5 429.2 470.0 431.8 472.0 437.0 472.2 439.5 473.5 440.0 478.0 442.8 480.8 446.8 480.8 450.0 484.0 450.0 488.0 452.8 490.8 467.0 492.2 470.0 494.0 469.5 518.2 460.2 518.2 459.8 513.8 458.2 511.8 452.8 511.0 450.2 509.2 432.8 508.8 428.5 512.0 427.0 518.8 422.8 518.8 419.0 521.2 417.8 523.8 417.8 530.8 591.2 530.8 590.8 523.0 587.0 519.5 582.8 519.5 582.0 517.8 582.5 512.5 587.0 512.2 589.8 508.2 589.8 503.8 587.0 501.0 582.5 500.8 581.2 498.2 581.2 492.8 582.5 482.5 587.0 482.2 589.8 478.2 589.8 463.5 591.0 458.2 590.2 442.5 592.0 423.8 589.8 418.0 589.0 412.2 587.2 411.0 582.8 411.0 579.8 408.0 579.0 402.2 577.2 401.0 572.8 401.0 571.0 398.2 571.0 392.8 572.5 390.8 577.5 390.8 582.8 392.2 589.0 391.5 591.2 388.2 591.2 383.8 590.0 382.0 587.5 381.0 572.5 381.8 570.0 383.8 570.0 388.2 568.8 389.5 562.8 389.8 561.0 388.0 561.0 383.8 559.8 380.8 557.0 378.8 552.8 378.8 552.0 378.0 552.0 373.8 550.0 371.0 547.0 369.8 542.5 369.8 540.0 368.2 539.8 363.8 537.2 362.2 532.8 362.2 527.2 360.5 521.5 360.0 519.0 358.0 519.0 353.8 517.0 351.0 501.5 349.2 499.8 348.0 499.8 343.8 497.8 341.5 481.5 338.2 481.2 333.8 477.2 331.0 462.5 330.2 457.2 328.8 441.5 328.2 441.2 323.8 442.2 322.5 447.2 322.2 450.5 320.0 451.2 313.8 447.0 309.5 442.2 309.2 441.2 308.0 441.2 303.8 437.0 299.5 412.5 298.8 411.2 298.0 411.2 293.8 407.0 291.0 397.2 289.8 382.5 289.8 379.8 288.0 379.8 283.8 377.0 281.0 372.8 281.0 367.0 278.8 362.5 278.8 361.2 278.0 361.2 273.8 358.5 271.8 341.5 268.2 341.2 263.8 338.2 258.0 338.2 253.8 337.0 251.2 333.0 251.0 331.2 248.0 329.8 233.8 327.0 231.0 322.5 230.5 321.2 228.0 321.2 223.8 317.0 219.5 312.8 219.5 311.2 218.0 311.2 193.8 309.0 188.2 309.0 173.8 307.0 171.8 300.2 172.2 298.5 173.8 298.0 178.5 292.8 179.0 291.2 178.0 291.2 164.0 287.0 161.0 282.8 161.0 278.5 163.8 278.0 198.0 277.0 199.0 272.8 199.0 271.8 198.0 271.8 183.8 269.5 181.8 262.2 181.8 260.5 183.8 260.5 188.2 257.0 192.2 242.8 191.8 240.2 188.2 239.5 182.5 237.0 180.5 232.8 180.5 230.2 178.0 231.8 163.8 229.8 158.5 229.0 133.5 226.8 129.5 222.8 129.5 221.2 128.0 220.8 123.5 217.5 122.2 212.2 122.2 209.0 123.5 208.5 128.0 207.0 129.5 202.8 129.5 198.5 133.8 198.5 138.0 197.5 138.8 192.8 139.0 187.0 142.2 170.8 142.8 168.5 144.0 168.5 148.0 167.0 149.5 162.8 149.5ZM411.2 313.8 412.5 313.0 418.2 313.5 418.5 318.0 417.2 318.8 411.5 318.2ZM432.8 312.2 437.0 312.2 438.2 313.2 438.5 318.0 437.5 319.2 432.8 319.5 431.2 318.0 431.2 313.8ZM282.8 202.8 287.0 202.8 288.0 203.8 288.0 208.0 287.0 209.0 282.8 209.0 281.8 208.0 281.8 203.8Z"/>
<path fill="#e6af2d" fill-rule="evenodd" d="M120.0 390.2 120.0 530.8 320.5 530.8 320.5 523.8 319.8 522.2 317.0 520.2 312.8 520.2 310.5 518.0 310.2 512.2 308.2 508.0 308.2 503.8 307.0 502.5 302.8 502.5 297.8 499.2 292.8 499.0 291.8 498.0 291.5 493.2 288.0 490.5 272.8 490.2 269.8 488.0 269.8 483.8 267.8 481.5 262.5 480.8 261.0 478.2 260.5 463.8 257.0 461.0 247.5 460.2 232.5 460.2 228.2 458.0 228.2 453.8 227.0 453.0 221.8 453.5 221.5 458.0 217.0 461.0 201.8 459.8 199.8 458.0 199.8 453.8 197.0 449.5 192.8 449.5 192.0 448.5 191.8 443.8 190.5 442.0 187.2 440.2 172.8 439.0 171.8 438.0 171.8 433.8 167.0 430.2 162.8 430.2 160.5 428.0 160.5 423.8 157.0 419.0 152.8 419.0 151.8 418.0 151.8 413.8 147.0 409.0 142.8 409.0 141.8 408.0 141.8 403.8 137.0 400.2 132.8 400.2 130.5 398.0 130.5 393.8 127.0 390.2ZM572.0 383.8 572.0 388.0 572.8 388.8 587.0 389.2 588.2 388.0 588.2 383.8 587.0 383.0ZM442.2 312.8 441.5 313.8 441.8 318.5 442.8 319.2 447.0 319.2 448.2 318.0 448.2 313.8 447.0 312.5ZM161.5 153.8 161.5 158.0 162.8 159.2 167.2 159.2 170.8 161.8 171.5 168.0 172.8 170.5 177.0 170.8 180.0 173.8 180.0 188.0 177.5 190.8 172.8 191.0 170.0 193.8 170.0 218.0 172.8 220.8 177.5 221.0 180.0 223.8 180.0 247.8 182.8 249.2 189.0 250.0 191.5 253.5 191.5 258.0 197.8 258.5 202.8 260.8 207.2 260.8 211.5 263.8 211.5 268.0 212.8 269.2 217.0 269.2 221.0 273.0 221.5 278.0 237.2 280.0 242.5 281.5 247.0 281.5 250.0 283.8 250.0 288.5 251.5 293.8 252.0 308.2 253.0 310.8 256.8 310.8 258.0 313.2 258.0 318.0 259.2 323.0 259.2 338.5 260.8 358.5 262.8 360.2 267.5 360.2 278.0 362.2 279.2 363.8 279.8 368.8 282.8 371.5 287.0 371.5 290.0 373.8 290.0 378.0 292.2 379.8 297.8 380.5 300.0 383.8 300.2 388.5 302.8 390.8 308.2 391.5 310.0 393.8 310.0 398.0 312.8 400.8 332.0 402.0 378.2 402.0 387.5 403.2 389.2 418.0 387.0 420.2 382.5 420.2 379.0 422.2 378.0 423.8 377.5 430.0 376.8 431.0 372.8 431.0 371.5 433.5 371.5 438.0 372.8 439.2 377.0 439.2 381.5 443.8 381.5 448.0 382.8 448.8 387.0 448.8 392.5 451.5 407.5 453.2 408.5 459.0 412.8 462.8 427.5 462.0 431.5 464.0 431.5 468.0 432.8 469.2 437.0 469.2 442.0 472.5 447.0 472.8 448.0 473.8 448.0 478.0 449.0 479.8 452.8 482.8 459.5 483.5 460.0 488.0 462.5 489.2 467.0 489.2 472.0 492.5 477.0 492.8 478.0 493.8 478.2 500.0 480.0 503.8 480.0 518.0 477.5 520.8 452.8 519.0 451.8 518.0 451.5 513.2 448.0 510.5 432.8 510.2 429.5 513.2 429.2 518.0 427.0 520.2 422.8 520.2 419.5 523.2 419.2 530.8 588.2 530.8 588.2 523.8 587.0 522.5 583.0 522.5 581.0 518.5 581.0 513.2 583.0 509.2 587.0 509.2 587.8 503.8 582.5 502.8 580.2 498.2 581.0 483.2 583.0 479.2 587.0 479.2 587.8 478.0 587.8 463.8 589.8 458.5 589.2 442.2 590.5 423.5 587.8 418.0 587.8 413.8 587.0 413.0 582.8 413.0 577.8 408.0 577.8 403.8 577.0 403.0 572.8 403.0 569.8 398.2 569.2 392.2 567.2 391.0 562.2 390.8 559.8 388.0 559.8 383.8 557.0 380.2 552.8 380.2 550.5 378.0 550.5 373.8 547.0 371.0 542.8 371.0 537.8 368.0 537.8 363.8 532.2 363.2 519.8 360.2 517.5 358.0 517.0 353.0 512.8 353.0 507.5 351.0 502.8 351.0 497.8 348.0 497.8 343.8 497.0 343.0 492.8 343.0 487.2 340.2 482.5 340.2 478.2 338.0 478.2 333.8 477.0 333.0 462.5 331.8 457.2 330.2 442.2 329.8 439.0 328.5 437.5 322.8 431.8 322.2 428.2 318.2 428.2 313.8 432.8 309.2 437.0 309.2 438.0 308.5 438.2 303.8 437.0 302.5 432.8 302.5 427.5 301.0 412.2 300.2 408.2 298.0 408.2 293.8 407.0 293.0 402.8 293.0 397.5 291.0 381.8 290.8 377.8 288.0 377.8 283.8 377.0 283.0 372.8 283.0 367.2 280.2 361.8 280.0 358.2 278.0 358.2 273.8 352.8 273.0 347.2 271.0 342.8 271.0 338.5 268.2 338.2 263.8 337.0 261.2 333.0 261.0 331.2 258.0 331.2 253.8 328.2 248.0 328.2 243.5 327.0 241.0 323.0 241.0 322.2 240.0 321.8 233.8 318.2 228.0 318.2 223.8 317.0 222.5 312.8 222.5 308.2 218.0 308.2 193.2 307.0 173.2 301.5 173.8 301.5 178.0 300.0 180.0 297.5 181.0 292.5 181.0 288.2 178.0 288.2 163.8 287.0 163.0 281.5 163.8 281.5 178.0 280.0 183.2 279.8 201.0 272.8 201.0 270.2 198.8 269.8 183.8 267.2 182.5 262.8 182.5 261.5 183.8 260.8 190.5 257.5 193.2 242.8 193.2 239.5 189.0 238.8 183.0 237.0 181.5 231.8 181.0 229.2 178.0 229.8 163.5 228.5 158.2 227.5 133.5 227.0 132.5 222.8 132.5 218.2 128.0 218.2 123.8 216.8 123.2 211.5 123.8 211.5 128.0 207.0 132.5 202.8 132.5 201.5 133.8 201.5 138.0 197.2 141.0 192.8 141.0 187.8 143.2 171.5 143.8 170.8 150.0 168.0 152.2 162.8 152.5ZM408.2 313.8 412.2 311.5 417.5 311.5 421.5 313.8 421.5 318.0 418.8 320.0 412.5 320.2 408.2 317.8ZM279.8 201.0 287.0 200.8 290.0 203.8 289.5 208.8 287.0 211.0 282.0 210.5 279.8 208.0Z"/>
<path fill="#f08228" fill-rule="evenodd" d="M420.8 523.8 420.8 530.8 471.2 530.8 470.8 523.2 467.5 521.8 452.8 521.0 449.8 518.0 449.8 513.8 447.0 511.8 432.8 511.8 430.8 513.8 430.0 519.2 427.0 521.8 422.8 521.8ZM120.0 391.8 120.0 530.8 319.0 530.8 318.5 523.0 317.0 521.8 312.8 521.8 309.8 519.2 309.0 513.5 307.0 509.5 302.8 509.5 301.2 508.0 301.2 503.8 298.5 501.8 291.5 500.2 289.8 498.0 289.8 493.8 287.0 491.8 272.8 491.8 267.8 488.0 267.8 483.8 267.0 483.0 262.8 483.0 259.8 478.2 259.0 463.8 258.0 462.8 248.5 461.8 232.5 461.8 227.0 459.5 222.8 459.5 217.0 463.0 202.5 461.8 200.2 460.8 197.8 458.0 197.0 452.5 192.8 452.5 190.5 449.5 189.8 443.8 187.0 441.8 172.0 440.5 169.8 438.0 169.8 433.8 167.0 431.8 161.5 431.0 159.0 428.0 159.0 423.8 157.5 421.5 152.0 420.5 149.8 418.0 149.8 413.8 147.0 411.0 142.8 411.0 140.2 408.8 139.2 403.2 137.0 401.8 132.8 401.8 129.8 399.2 129.0 393.8 127.0 391.8ZM180.0 153.8 180.0 168.0 182.8 170.8 187.0 170.8 190.0 173.8 190.0 178.0 191.5 180.0 197.0 180.8 200.0 183.8 200.0 257.8 202.5 258.8 209.0 259.0 212.8 260.8 217.5 261.0 220.0 263.8 220.0 268.0 222.8 270.8 227.0 270.8 230.0 273.8 230.2 278.0 248.0 280.2 252.0 283.8 252.8 290.5 257.2 291.0 258.5 293.5 258.5 308.0 260.0 313.2 260.8 322.8 261.5 358.0 262.8 359.2 277.0 360.0 280.8 363.8 280.8 368.0 282.8 370.0 287.0 370.0 292.0 373.8 292.2 378.2 297.0 378.5 300.0 380.8 302.0 389.0 307.8 389.8 310.5 392.0 311.2 398.0 312.8 399.5 331.8 400.8 378.0 400.8 387.0 401.5 390.0 403.8 390.8 418.0 387.5 421.5 382.8 421.8 380.0 423.8 378.5 438.0 382.8 442.2 387.0 442.2 388.5 443.8 388.5 447.8 392.5 450.0 397.2 450.0 408.0 452.0 410.0 453.8 410.0 458.0 412.8 460.8 427.5 460.8 432.8 462.8 437.5 463.0 438.5 463.8 438.5 468.0 442.8 470.8 447.0 470.8 449.5 473.0 450.0 478.0 452.0 480.2 457.2 480.8 462.8 482.8 467.0 482.8 468.5 483.8 468.5 488.0 472.8 490.8 477.8 491.2 480.0 493.8 480.0 498.2 482.8 502.2 497.0 502.2 498.5 503.8 499.2 510.0 501.8 512.0 507.0 512.2 508.5 513.8 508.5 518.5 510.0 523.8 510.0 530.8 581.8 530.8 581.8 523.8 579.8 518.5 579.8 513.2 581.8 508.0 581.8 503.8 579.2 498.2 579.8 483.2 581.8 478.0 581.8 463.8 582.8 462.2 586.8 462.2 588.5 458.5 589.0 423.5 586.8 419.5 582.8 419.5 581.2 418.0 581.2 413.8 577.0 409.5 572.8 409.5 571.2 408.0 571.2 403.8 569.5 401.5 568.5 398.0 568.5 393.5 567.2 392.2 562.8 392.2 559.8 390.0 558.5 388.0 558.0 382.8 557.0 381.8 551.5 381.0 549.0 378.0 549.0 373.8 548.0 372.8 542.0 372.0 537.0 369.0 532.2 368.8 531.2 368.0 531.2 364.0 529.8 363.2 521.2 362.2 516.8 359.5 512.8 359.5 511.2 358.0 510.8 353.5 507.5 352.2 502.8 352.2 497.0 349.0 492.8 349.0 491.2 348.0 491.2 344.0 487.2 341.8 482.5 341.8 477.0 339.5 472.5 339.5 469.8 338.0 469.5 333.8 462.5 333.2 457.2 331.8 442.2 331.0 437.0 329.0 422.8 329.0 421.2 328.0 421.2 323.8 420.5 322.8 417.8 321.8 412.5 321.8 407.0 319.0 402.8 319.0 401.2 318.0 401.2 313.5 402.8 310.8 410.5 310.0 427.0 310.8 429.8 308.0 429.5 303.8 417.8 301.8 402.8 301.0 401.2 298.2 400.8 293.5 397.5 292.2 382.8 292.2 379.2 291.2 377.0 289.5 372.8 289.5 371.2 288.0 370.8 283.5 367.2 281.8 362.5 281.8 357.0 279.5 352.8 279.5 349.8 277.8 349.5 273.8 342.0 272.8 337.0 269.5 332.8 269.5 331.2 268.0 331.2 263.8 328.2 258.0 328.2 253.8 327.0 251.2 322.8 251.0 321.2 248.2 321.2 243.8 319.0 232.2 317.0 229.5 312.8 229.5 311.2 228.0 311.2 223.8 307.0 219.5 302.8 219.5 301.2 218.0 301.2 213.2 299.8 208.0 299.8 183.8 290.8 182.8 287.0 181.0 283.0 181.0 282.5 181.8 282.0 198.0 290.0 199.8 292.0 203.5 291.5 209.0 287.0 213.0 282.8 213.0 281.0 212.0 277.8 208.0 277.8 203.8 277.0 203.0 272.8 203.0 268.8 199.8 267.8 198.0 267.2 183.5 262.5 183.8 262.2 190.8 260.0 194.0 259.8 198.2 257.2 199.5 242.8 199.5 241.2 198.0 241.2 194.0 238.5 189.5 238.2 183.8 237.0 182.5 231.8 182.2 228.5 179.0 227.0 141.2 222.8 141.0 219.8 138.0 219.8 133.8 217.0 131.0 212.8 131.0 210.0 133.8 210.0 138.0 207.0 141.0 202.8 141.0 199.0 142.8 190.2 143.8 190.0 148.0 187.0 151.0 182.8 151.0Z"/>
<path fill="#fa5000" fill-rule="evenodd" d="M422.2 523.8 422.2 530.8 468.2 530.8 468.2 523.8 452.8 523.0 448.2 519.0 447.8 513.8 447.0 513.2 432.8 513.2 432.2 518.0 431.0 520.5 427.8 523.0ZM120.0 393.2 120.0 530.8 317.5 530.8 317.5 523.8 312.0 523.0 308.8 520.5 307.5 518.0 307.0 512.5 302.8 512.5 298.2 508.0 298.2 503.8 291.5 502.8 288.8 501.0 287.5 493.5 272.8 493.2 267.0 489.5 262.8 489.5 261.2 488.0 261.2 483.8 259.5 481.5 258.5 478.0 257.2 463.5 222.8 462.5 220.0 464.0 219.8 468.2 217.2 469.5 212.5 469.5 209.8 468.0 209.5 463.8 200.5 463.0 197.0 461.0 192.8 461.0 191.2 458.2 191.2 453.8 187.8 448.0 187.5 443.5 172.8 443.0 171.0 442.0 167.8 438.0 167.8 433.8 162.8 433.2 160.2 432.0 157.8 428.8 157.2 423.2 152.8 423.0 151.0 422.0 147.8 418.0 147.8 413.8 147.0 413.0 142.8 413.0 138.8 409.8 137.8 408.0 137.5 403.5 132.0 403.0 128.8 400.5 127.5 398.0 127.0 393.2ZM410.0 304.0 410.2 308.0 417.8 308.5 419.8 307.8 419.5 303.8 412.0 303.2ZM190.0 153.8 190.0 168.0 192.8 170.8 198.2 171.5 200.0 173.8 200.0 178.0 202.8 180.8 207.0 180.8 209.2 182.5 210.8 189.2 212.8 190.8 217.0 190.8 220.0 193.8 220.0 218.0 222.8 220.8 227.5 221.0 230.0 223.8 230.0 268.0 232.8 270.8 238.2 271.5 240.0 273.8 240.2 278.0 249.2 278.8 252.8 280.8 257.0 280.8 260.0 283.8 260.0 288.0 261.5 293.2 262.8 358.2 277.8 358.8 281.5 362.0 282.8 368.5 287.0 368.5 292.8 372.2 297.2 372.2 299.8 373.5 300.0 377.8 301.5 379.2 302.2 382.0 302.2 387.8 303.0 388.5 310.5 389.2 312.0 391.2 312.2 397.8 313.0 398.5 327.2 398.5 331.5 399.5 387.2 400.0 389.5 401.0 392.0 403.8 392.2 418.0 388.8 422.5 382.0 423.8 381.5 438.0 382.8 439.2 387.0 439.2 391.5 443.8 391.5 448.0 407.2 450.0 409.5 451.0 412.0 453.8 412.0 458.0 412.8 458.8 427.2 459.5 437.2 460.8 441.5 463.8 441.5 468.0 447.0 468.8 451.0 472.0 452.8 478.8 457.0 478.8 462.5 480.8 467.2 480.8 471.5 483.8 471.5 488.0 478.8 489.8 482.0 493.8 482.8 499.2 497.0 499.2 501.5 503.8 501.5 508.0 502.8 509.2 507.0 509.2 511.0 513.0 511.5 518.2 512.8 520.8 517.0 520.8 520.0 523.8 520.0 530.8 579.8 530.8 579.8 523.5 578.5 518.2 579.8 503.8 578.2 498.5 578.5 483.5 579.8 478.2 579.8 463.5 582.8 459.2 587.0 459.2 587.5 457.8 587.5 423.5 587.0 422.5 580.8 421.8 578.2 418.2 578.2 413.8 577.0 412.5 572.8 412.5 568.2 408.0 567.5 394.0 566.8 393.2 561.5 393.0 558.8 391.0 557.5 388.5 557.2 383.5 552.8 383.2 550.2 382.0 547.8 378.8 547.2 373.5 542.0 373.2 537.0 371.0 532.8 371.0 528.2 368.0 528.2 364.0 512.8 362.5 508.2 358.0 508.2 353.8 502.0 353.2 497.0 351.0 492.5 351.0 488.2 348.0 488.2 343.8 472.2 342.5 467.0 341.0 462.8 341.0 459.8 338.0 459.8 334.0 457.5 333.2 442.5 332.2 437.2 331.0 422.5 331.0 418.2 328.0 418.2 323.8 412.8 323.2 407.0 321.0 402.5 321.0 398.2 318.0 398.2 313.2 399.8 308.0 398.2 293.8 371.8 292.2 368.5 289.0 368.2 283.8 352.8 282.5 347.0 279.5 342.5 279.5 339.8 278.0 339.5 273.8 337.0 272.5 331.8 272.2 329.0 270.0 328.2 263.8 327.0 261.2 322.8 261.0 319.8 258.0 319.8 253.8 318.2 248.5 317.5 233.2 317.0 232.5 310.8 231.8 308.2 228.2 308.2 223.8 307.0 222.5 302.8 222.5 298.2 218.0 298.2 213.5 297.0 211.0 293.0 211.0 290.0 214.0 289.8 218.2 287.2 219.5 282.5 219.5 279.8 218.0 279.8 214.0 276.8 211.0 272.8 211.0 270.5 209.2 269.8 204.0 266.8 201.0 262.8 201.0 257.5 202.5 242.5 202.5 240.8 201.8 238.2 198.2 237.2 183.8 229.2 182.8 227.5 180.2 227.0 171.2 222.8 171.0 219.8 168.0 219.8 143.8 217.0 141.0 212.8 141.0 210.0 143.8 209.8 148.5 207.0 151.0 192.8 151.0Z"/>
<path fill="#ff0000" fill-rule="evenodd" d="M430.0 524.0 430.0 530.8 449.8 530.8 449.8 524.0 446.8 521.0 433.0 521.0ZM120.0 401.0 120.0 530.8 309.8 530.8 309.8 524.0 306.8 521.0 302.8 521.0 300.5 519.2 299.8 513.8 297.0 511.0 282.8 511.0 281.2 508.2 281.0 502.8 279.0 500.2 272.5 499.5 270.0 498.2 269.5 493.8 267.0 492.5 261.8 492.2 259.0 490.0 256.8 471.0 222.8 471.0 217.5 472.5 212.2 472.5 207.0 471.0 192.2 470.8 189.8 468.0 188.2 453.8 186.8 451.0 172.8 451.0 169.8 448.0 169.8 444.0 166.8 441.0 161.5 440.2 159.8 438.0 159.8 434.0 156.8 431.0 151.5 430.2 149.8 428.0 149.8 424.0 146.8 421.0 141.5 420.2 139.8 418.0 139.8 414.0 136.8 411.0 131.5 410.2 129.8 408.0 129.8 404.0 126.8 401.0ZM271.5 221.8 270.0 223.8 270.8 229.2 272.8 230.8 277.0 230.8 280.0 233.8 280.0 298.0 277.5 300.8 272.8 301.0 270.0 303.8 270.0 318.0 272.8 320.8 277.5 321.0 280.0 323.8 280.0 357.8 283.0 360.8 288.2 361.5 290.0 363.8 290.0 367.8 292.8 369.2 297.5 369.2 308.2 371.5 310.0 373.8 310.8 379.2 312.8 380.8 318.2 381.5 320.0 383.8 320.8 389.2 322.8 390.8 328.2 391.5 330.0 393.8 330.2 398.0 387.5 398.5 391.0 399.2 392.8 400.8 398.2 401.5 400.0 403.8 400.0 418.0 397.5 420.8 393.0 421.0 390.0 424.0 390.0 438.0 392.8 440.8 398.2 441.5 400.0 443.8 400.2 448.0 409.2 448.8 412.8 450.8 417.5 451.0 420.0 453.8 420.2 458.0 437.5 458.8 442.8 460.8 447.5 461.0 450.0 463.8 450.0 467.8 453.0 470.8 457.0 470.8 459.2 472.5 460.2 478.0 477.5 481.0 480.0 483.8 480.0 487.8 483.0 490.8 497.0 490.8 500.0 493.8 500.0 498.0 502.8 500.8 507.0 500.8 510.0 503.8 510.0 508.0 512.8 510.8 517.0 510.8 520.0 513.8 520.0 518.0 522.8 520.8 527.2 521.0 528.5 523.5 528.5 530.8 577.8 530.8 577.8 463.2 579.8 458.0 579.8 433.8 577.5 431.2 572.8 431.0 570.0 428.5 569.8 413.8 567.0 411.0 562.2 410.8 559.8 408.0 559.8 394.0 556.8 391.0 552.8 391.0 549.8 388.0 549.8 384.0 546.8 381.0 542.8 381.0 539.8 378.0 539.5 373.8 532.0 372.8 527.0 369.5 512.5 369.5 510.0 368.2 509.8 363.8 507.0 361.0 502.8 361.0 499.8 358.0 499.5 353.8 490.8 352.8 487.0 351.0 462.8 351.0 460.0 348.5 459.8 343.8 457.0 341.0 452.8 341.0 450.5 339.2 449.5 333.8 422.2 333.0 417.0 331.0 412.8 331.0 409.8 328.0 409.5 323.8 400.8 322.8 397.0 321.0 389.8 320.8 389.8 303.8 387.5 301.2 362.8 301.0 359.8 298.0 359.8 293.8 358.2 291.8 352.8 291.0 350.5 289.2 349.5 283.8 347.0 282.5 342.2 282.5 337.0 281.0 322.2 280.8 319.8 278.0 319.0 272.5 317.0 271.0 312.8 271.0 309.8 268.0 309.8 253.8 307.0 251.0 302.8 251.0 299.8 248.0 299.8 223.8 297.0 221.0 292.8 221.0 287.5 222.5 282.2 222.5 277.0 221.0ZM382.8 320.8 390.0 321.0 390.0 328.0 387.0 331.0 382.8 331.0 379.8 328.0 379.8 323.8Z"/>
<path fill="#c80000" fill-rule="evenodd" d="M120.0 501.0 120.0 530.8 289.8 530.8 289.8 523.8 287.0 521.0 282.8 521.0 279.8 518.0 278.2 503.8 277.0 502.5 272.2 502.5 267.0 501.0ZM430.0 373.8 430.0 418.0 432.8 420.8 438.2 421.5 440.0 423.8 440.8 429.2 442.8 430.8 448.2 431.5 450.0 433.8 450.0 438.0 452.2 440.5 467.0 440.8 470.0 443.8 470.8 449.2 472.8 450.8 478.2 451.5 480.0 453.8 480.8 459.2 482.8 460.8 488.2 461.5 490.0 463.8 490.8 469.2 492.8 470.8 497.0 470.8 500.0 473.8 500.0 488.0 502.8 490.8 508.2 491.5 510.0 493.8 510.0 498.0 512.8 500.8 518.2 501.5 520.0 503.8 520.0 508.0 522.8 510.8 527.0 510.8 529.8 513.2 531.5 523.2 531.5 530.8 569.8 530.8 569.8 453.8 567.0 451.0 562.8 451.0 559.8 448.0 559.5 433.2 557.0 431.0 552.2 430.8 549.8 428.0 549.8 393.8 547.0 391.0 541.5 390.2 539.8 388.0 539.8 383.8 537.0 381.0 532.8 381.0 530.5 379.2 529.5 373.8 527.0 372.5 512.2 372.5 507.0 371.0 502.8 371.0 500.0 368.5 499.8 363.8 497.0 361.0 462.8 361.0 460.0 363.8 459.8 368.5 457.0 371.0 432.8 371.0ZM472.8 380.8 497.0 380.8 500.0 383.8 500.2 398.5 502.8 400.8 507.5 401.0 510.0 403.8 510.0 428.0 507.0 431.0 501.5 430.2 499.8 428.0 499.8 423.8 497.0 421.0 482.2 420.8 479.8 418.0 479.8 413.8 478.2 411.8 472.8 411.0 470.5 409.2 469.8 403.8 468.2 401.8 462.8 401.0 459.8 398.0 460.0 393.2 462.8 390.8 467.0 390.8 469.0 389.2 469.8 383.8Z"/>
<g stroke="#888" stroke-width="1" stroke-dasharray="2 4" shape-rendering="crispEdges"><line x1="136.5" y1="50" x2="136.5" y2="531" /><line x1="196.5" y1="50" x2="196.5" y2="531" /><line x1="256.5" y1="50" x2="256.5" y2="531" /><line x1="317.5" y1="50" x2="317.5" y2="531" /><line x1="377.5" y1="50" x2="377.5" y2="531" /><line x1="437.5" y1="50" x2="437.5" y2="531" /><line x1="498.5" y1="50" x2="498.5" y2="531" /><line x1="558.5" y1="50" x2="558.5" y2="531" /><line x1="122" y1="106.5" x2="618" y2="106.5" /><line x1="122" y1="180.5" x2="618" y2="180.5" /><line x1="122" y1="254.5" x2="618" y2="254.5" /><line x1="122" y1="327.5" x2="618" y2="327.5" /><line x1="122" y1="401.5" x2="618" y2="401.5" /><line x1="122" y1="475.5" x2="618" y2="475.5" /></g>
<g fill="none" stroke="#6a6a6a" stroke-width="2.2" stroke-linejoin="round" stroke-linecap="round">
<path d="M157.8 52.5 171.5 57.9 196.0 61.0 212.4 63.5 234.1 66.2 255.7 67.6 266.5 71.6 288.1 74.9 298.9 71.6 307.0 64.9 315.1 59.5 331.4 58.1 353.0 55.4 369.2 52.7 372.0 51.0"/>
<path d="M397.3 51.0 400.8 52.7 409.3 68.2 420.0 73.3 430.3 81.9 437.2 88.8 447.5 93.1 452.6 100.8 454.4 106.0 461.2 111.1 469.8 110.3 476.7 116.3 480.1 118.9 488.7 121.4 509.3 121.4 520.0 124.9 533.7 119.7 545.8 112.9 559.5 106.0 566.4 105.1 575.0 106.0 588.7 95.7 592.2 93.1 602.5 94.0 609.3 94.8 620.0 93.1"/>
<path d="M409.3 68.2 404.2 66.5 399.0 66.5 393.0 68.2 392.2 73.3 388.7 75.9 381.0 78.5 376.7 83.6 364.7 88.0 354.4 88.8 352.6 95.7 355.7 104.1 358.4 117.6 347.6 120.3 338.9 121.4 333.7 124.9 335.5 130.0 334.1 136.0 335.4 141.9 331.4 147.3 320.5 143.2 307.0 144.6 293.5 136.5 290.8 131.1 282.7 141.9 269.2 143.2 250.3 144.6 228.6 144.8"/>
<path d="M234.1 66.2 238.1 71.6 231.4 75.7 220.5 82.4 219.2 86.5 228.6 90.5 234.1 93.2 230.0 98.6 225.9 104.1 227.3 108.1 234.1 108.1 231.4 114.9 228.6 120.3 232.7 121.6"/>
<path d="M545.8 112.9 549.2 116.3 554.4 121.4 556.1 128.3 552.6 135.2 554.4 138.6 559.5 140.3 562.9 142.1 559.5 145.5 556.9 151.0 559.5 154.4 566.4 158.7 576.7 162.2 583.6 163.0 583.6 166.5 569.8 164.7 567.3 168.2 565.5 176.8 563.0 181.9 560.4 187.1 558.7 189.7"/>
<path d="M362.1 168.2 366.4 163.0 376.7 163.0 385.3 169.9 390.4 176.8 394.7 179.4 399.0 173.3 404.2 166.5 409.3 163.0 420.0 164.2 425.2 165.6 432.0 159.6 437.2 163.0 445.8 168.2 454.4 167.3 461.2 169.9 468.1 171.6 475.0 170.8 480.1 171.6 487.0 175.9 492.2 174.2 500.8 171.6 505.9 173.3 511.1 169.9 520.0 171.6 530.3 172.5 537.2 174.2 545.8 179.4 544.9 185.4 549.2 189.7 556.1 191.4 558.7 189.7"/>
<path d="M558.7 189.7 561.2 187.1 568.1 185.4 576.7 186.2 581.0 188.0 580.1 194.0 576.7 202.5 571.5 209.4 566.4 212.9 565.5 219.7 565.5 228.3 568.1 232.6 578.4 236.9 585.3 242.1 592.2 247.2 595.6 251.0 590.4 256.2 580.1 256.2 573.3 254.4"/>
<path d="M571.5 251.0 573.3 254.4 576.7 259.6 581.9 264.7 587.0 269.9 588.7 275.1 588.7 281.9 583.6 283.6 575.0 287.1 571.5 288.8 564.7 287.1 559.5 286.2 556.1 288.8 556.1 292.2 561.2 299.1 563.0 306.0 559.5 309.4 556.1 304.3 552.6 300.8 545.8 302.5 538.9 307.7 537.2 316.3 536.3 323.2 530.7 324.3 525.5 329.5 526.5 337.7 530.7 345.9 526.5 350.1 524.5 356.2 526.5 360.4"/>
<path d="M571.5 288.8 580.1 294.0 588.7 300.8 595.6 311.1 602.5 314.6 612.8 318.0 620.0 321.4"/>
<path d="M578.4 409.4 579.3 402.5 580.1 395.7 576.7 388.8 581.9 381.9 587.0 373.3 592.2 364.7 595.6 357.9 602.5 352.7 604.2 359.6 609.3 364.7 616.2 363.0 620.0 361.3"/>
<path d="M362.1 168.2 361.5 180.1 361.3 192.4 365.4 198.6 373.6 200.7 377.8 206.8 383.9 215.1 386.0 219.0 389.0 228.5 385.9 237.8 394.2 240.9 400.4 247.1 408.6 251.2 414.8 255.3 421.0 263.6 427.1 271.8 435.4 282.1 440.0 287.2 452.4 292.4 456.5 302.7 462.7 310.9 470.9 317.1 477.1 323.3 478.1 329.5 475.0 332.5"/>
<path d="M231.0 119.5 226.8 123.4 220.7 129.6 216.5 127.5 208.3 124.4 203.1 123.4 201.1 128.5 195.9 132.7 187.7 134.7 179.5 138.8 171.2 140.9 165.0 137.8 160.9 138.8 154.7 143.0 148.5 151.2 145.5 159.5 148.5 165.6 154.7 171.8 163.0 175.9 168.1 180.1 163.0 186.2 158.8 190.4 152.7 194.5 150.6 200.7 150.6 208.9 152.7 218.2 155.8 228.5 160.9 238.8 167.1 245.0 175.3 253.3 184.6 255.3 193.9 261.5 204.2 268.7 212.4 275.9 220.7 280.1 228.9 282.1 233.0 286.2 237.1 296.5 240.6 300.8 244.1 309.4 247.5 318.0 250.9 326.6 253.5 335.2 256.1 343.8 257.5 351.0 261.2 357.9 269.8 366.5 278.4 373.3 285.3 380.2 292.2 385.4 299.0 388.8 300.8 394.0 309.3 400.8 320.0 403.8 337.2 406.8 354.4 406.0 376.7 405.1 387.0 409.4 388.7 416.3 378.4 424.9 369.8 430.0 371.5 436.9 383.6 443.8 394.2 451.0 402.4 453.7 410.7 456.5 420.0 461.0 433.7 466.1 447.5 471.6 461.2 484.0 474.9 492.2 496.9 499.1 499.7 507.3 520.0 521.1 527.0 530.0"/>
<path d="M153.8 154.3 162.0 147.0 170.0 142.0"/>
<path d="M160.0 257.0 163.0 254.5 167.0 255.0 166.0 259.5 161.0 261.0Z"/>
<path d="M423.0 530.0 428.4 518.4 433.7 514.2 440.6 510.1 447.5 510.1 457.1 512.8 450.2 518.3 458.5 522.4 468.1 526.5 477.7 527.2 488.7 527.9 494.2 531.0"/>
<path d="M119.0 392.2 128.6 397.4 137.2 402.5 147.5 412.9 154.4 419.7 164.7 428.3 175.0 438.6 188.7 445.5 194.2 453.0 202.4 453.7 209.3 452.4 220.0 456.5 239.2 455.8 246.1 462.0 255.4 475.1 260.8 485.9 271.6 487.3 279.7 491.4 277.0 502.2 287.8 498.1 298.6 496.8 304.1 499.5 309.5 507.6 314.9 518.4 314.9 526.5 312.2 531.0"/>
<path d="M232.7 121.6 243.3 122.4 248.5 126.5 250.5 132.7 247.5 136.8 241.3 138.8 233.0 140.9 226.8 143.0 228.9 151.2 232.0 166.5 239.2 173.9 245.8 185.4 250.9 195.7 256.1 194.0 257.5 184.4 265.2 180.9 266.9 174.1 271.2 168.9 273.0 160.3 276.4 154.3 283.0 155.3 288.7 156.2 295.6 161.3 303.6 169.8 307.6 169.9 311.1 178.5 310.6 188.2 310.6 196.5 312.0 203.4 317.5 208.9 323.0 214.4 329.9 221.2 336.7 226.7 342.2 230.9 347.7 233.6 340.0 232.5 333.0 234.0 331.2 239.1 336.7 247.4 342.2 255.6 350.9 259.5 361.2 267.7 369.5 273.9 374.6 278.0 375.6 282.1 377.7 288.3 381.8 291.4 390.1 289.3 398.3 287.3 406.5 288.3 416.8 291.4 425.1 294.5 431.3 298.6 437.5 302.7 445.7 308.9 448.2 313.0 456.5 317.1 464.7 321.2 470.9 327.4 477.1 331.5 483.3 333.6 489.5 339.8 497.7 343.9 505.9 348.0 514.2 353.1 522.4 356.2 526.5 360.4 526.5 366.5 531.0 369.5 534.1 371.4 538.2 374.1 543.7 378.2 550.6 380.3 556.1 386.5 561.6 392.0 565.7 396.1 567.1 403.0 569.9 405.7 575.4 407.8 579.5 409.9 585.0 411.2 593.2 414.7 593.2 427.7 587.7 436.0 585.0 441.5 585.0 450.0 588.7 455.1 587.3 462.0 584.6 471.6 590.1 479.8 584.6 484.0 581.8 489.5 579.1 497.7 577.0 501.1 580.4 504.6 585.9 507.3 587.3 514.2 587.3 522.4 584.6 523.8 580.4 519.7 576.3 515.6 577.7 519.7 581.8 525.2 583.2 531.0"/>
<path d="M283.0 163.6 289.2 162.5 299.5 169.8 305.6 173.9 303.6 182.1 297.4 182.1 289.2 178.0 283.0 171.8Z"/>
<path d="M273.7 167.7 277.8 167.7 278.8 173.9 280.9 180.1 281.9 190.4 285.0 200.7 288.1 206.8 285.0 208.9 280.9 204.8 277.8 196.5 275.8 188.3 274.7 175.9Z"/>
<path d="M284.0 206.0 287.0 212.0 290.0 219.0"/>
<path d="M301.0 202.5 306.5 207.5 312.0 213.0 317.5 217.1 323.0 224.0 327.1 229.5 327.1 233.6 324.4 230.9 318.9 222.6 313.4 217.1 306.5 210.2 301.0 203.4Z"/>
<path d="M307.9 240.5 313.4 247.4 317.5 251.5 323.0 257.0 327.0 261.5"/>
<path d="M320.0 253.3 326.0 256.0 330.3 261.5 327.0 262.0 321.0 258.0Z"/>
<path d="M402.4 298.6 406.5 300.7 418.9 301.7 429.2 303.8 431.3 306.8 425.1 307.9 414.8 305.8 404.5 303.8Z"/>
<path d="M400.4 312.0 408.6 311.0 418.9 313.0 435.4 316.1 443.6 317.1 443.6 319.2 431.3 319.2 418.9 318.2 406.5 315.1Z"/>
<path d="M380.5 321.5 386.0 320.3 392.0 322.0 390.5 325.5 384.0 325.8 380.0 323.5Z"/>
<path d="M440.0 319.2 452.4 322.2 464.7 326.4 475.0 331.5"/>
<path d="M414.0 327.6 420.5 326.8 433.5 327.6 444.9 328.4 448.1 330.8 444.9 333.2 433.5 333.2 422.1 332.4 415.7 330.8Z"/>
<path d="M456.5 341.8 468.8 344.9 481.2 348.0 478.0 349.5 466.0 347.0 456.0 344.0Z"/>
</g>
</svg>
<rect x="120" y="51" width="499" height="479" fill="none" stroke="#000" stroke-width="2" shape-rendering="crispEdges"/><rect x="117" y="106" width="2" height="1" fill="#000"/><text x="96.6" y="110.6" class="ax" textLength="17.8" lengthAdjust="spacingAndGlyphs">46N</text><rect x="117" y="180" width="2" height="1" fill="#000"/><text x="96.6" y="184.6" class="ax" textLength="17.8" lengthAdjust="spacingAndGlyphs">45N</text><rect x="117" y="254" width="2" height="1" fill="#000"/><text x="96.6" y="258.6" class="ax" textLength="17.8" lengthAdjust="spacingAndGlyphs">44N</text><rect x="117" y="327" width="2" height="1" fill="#000"/><text x="96.6" y="331.6" class="ax" textLength="17.8" lengthAdjust="spacingAndGlyphs">43N</text><rect x="117" y="401" width="2" height="1" fill="#000"/><text x="96.6" y="405.6" class="ax" textLength="17.8" lengthAdjust="spacingAndGlyphs">42N</text><rect x="117" y="475" width="2" height="1" fill="#000"/><text x="96.6" y="479.6" class="ax" textLength="17.8" lengthAdjust="spacingAndGlyphs">41N</text><rect x="136" y="531" width="1" height="3" fill="#000"/><text x="128.6" y="543.8" class="ax" textLength="15.8" lengthAdjust="spacingAndGlyphs">12E</text><rect x="196" y="531" width="1" height="3" fill="#000"/><text x="188.6" y="543.8" class="ax" textLength="15.8" lengthAdjust="spacingAndGlyphs">13E</text><rect x="256" y="531" width="1" height="3" fill="#000"/><text x="248.6" y="543.8" class="ax" textLength="15.8" lengthAdjust="spacingAndGlyphs">14E</text><rect x="317" y="531" width="1" height="3" fill="#000"/><text x="309.6" y="543.8" class="ax" textLength="15.8" lengthAdjust="spacingAndGlyphs">15E</text><rect x="377" y="531" width="1" height="3" fill="#000"/><text x="369.6" y="543.8" class="ax" textLength="15.8" lengthAdjust="spacingAndGlyphs">16E</text><rect x="437" y="531" width="1" height="3" fill="#000"/><text x="429.6" y="543.8" class="ax" textLength="15.8" lengthAdjust="spacingAndGlyphs">17E</text><rect x="498" y="531" width="1" height="3" fill="#000"/><text x="490.6" y="543.8" class="ax" textLength="15.8" lengthAdjust="spacingAndGlyphs">18E</text><rect x="558" y="531" width="1" height="3" fill="#000"/><text x="550.6" y="543.8" class="ax" textLength="15.8" lengthAdjust="spacingAndGlyphs">19E</text><rect x="619" y="531" width="1" height="3" fill="#000"/><text x="611.6" y="543.8" class="ax" textLength="15.8" lengthAdjust="spacingAndGlyphs">20E</text>
<rect x="652" y="77.00" width="15" height="19.04" fill="#ffeedc"/><rect x="652" y="95.64" width="15" height="19.04" fill="#d8bcd8"/><rect x="652" y="114.27" width="15" height="19.04" fill="#dca0dc"/><rect x="652" y="132.91" width="15" height="19.04" fill="#b45ad2"/><rect x="652" y="151.55" width="15" height="19.04" fill="#820096"/><rect x="652" y="170.18" width="15" height="19.04" fill="#a00000"/><rect x="652" y="188.82" width="15" height="19.04" fill="#c80000"/><rect x="652" y="207.45" width="15" height="19.04" fill="#ff0000"/><rect x="652" y="226.09" width="15" height="19.04" fill="#fa5000"/><rect x="652" y="244.73" width="15" height="19.04" fill="#f08228"/><rect x="652" y="263.36" width="15" height="19.04" fill="#e6af2d"/><rect x="652" y="282.00" width="15" height="19.04" fill="#e6d232"/><rect x="652" y="300.64" width="15" height="19.04" fill="#f0e650"/><rect x="652" y="319.27" width="15" height="19.04" fill="#e6f5b4"/><rect x="652" y="337.91" width="15" height="19.04" fill="#a0e632"/><rect x="652" y="356.55" width="15" height="19.04" fill="#00dc00"/><rect x="652" y="375.18" width="15" height="19.04" fill="#00aa00"/><rect x="652" y="393.82" width="15" height="19.04" fill="#008200"/><rect x="652" y="412.45" width="15" height="19.04" fill="#1e3cff"/><rect x="652" y="431.09" width="15" height="19.04" fill="#00a0e6"/><rect x="652" y="449.73" width="15" height="19.04" fill="#afdce6"/><rect x="652" y="468.36" width="15" height="19.04" fill="#e6ffff"/><text x="669.6" y="80.5" class="cb" textLength="15.0" lengthAdjust="spacingAndGlyphs">29</text><text x="669.6" y="99.1" class="cb" textLength="15.0" lengthAdjust="spacingAndGlyphs">27</text><text x="669.6" y="117.8" class="cb" textLength="15.0" lengthAdjust="spacingAndGlyphs">25</text><text x="669.6" y="136.4" class="cb" textLength="15.0" lengthAdjust="spacingAndGlyphs">23</text><text x="669.6" y="155.0" class="cb" textLength="15.0" lengthAdjust="spacingAndGlyphs">21</text><text x="669.6" y="173.7" class="cb" textLength="15.0" lengthAdjust="spacingAndGlyphs">19</text><text x="669.6" y="192.3" class="cb" textLength="15.0" lengthAdjust="spacingAndGlyphs">17</text><text x="669.6" y="211.0" class="cb" textLength="15.0" lengthAdjust="spacingAndGlyphs">15</text><text x="669.6" y="229.6" class="cb" textLength="15.0" lengthAdjust="spacingAndGlyphs">13</text><text x="669.6" y="248.2" class="cb" textLength="15.0" lengthAdjust="spacingAndGlyphs">11</text><text x="670.4" y="266.9" class="cb" textLength="7.4" lengthAdjust="spacingAndGlyphs">9</text><text x="670.4" y="285.5" class="cb" textLength="7.4" lengthAdjust="spacingAndGlyphs">7</text><text x="670.4" y="304.1" class="cb" textLength="7.4" lengthAdjust="spacingAndGlyphs">5</text><text x="670.4" y="322.8" class="cb" textLength="7.4" lengthAdjust="spacingAndGlyphs">3</text><text x="670.4" y="341.4" class="cb" textLength="7.4" lengthAdjust="spacingAndGlyphs">1</text><text x="670.6" y="360.0" class="cb" textLength="15.4" lengthAdjust="spacingAndGlyphs">− 1</text><text x="670.6" y="378.7" class="cb" textLength="15.4" lengthAdjust="spacingAndGlyphs">− 3</text><text x="670.6" y="397.3" class="cb" textLength="15.4" lengthAdjust="spacingAndGlyphs">− 5</text><text x="670.6" y="416.0" class="cb" textLength="15.4" lengthAdjust="spacingAndGlyphs">− 7</text><text x="670.6" y="434.6" class="cb" textLength="15.4" lengthAdjust="spacingAndGlyphs">− 9</text><text x="670.6" y="453.2" class="cb" textLength="24.8" lengthAdjust="spacingAndGlyphs">− 11</text><text x="670.6" y="471.9" class="cb" textLength="24.8" lengthAdjust="spacingAndGlyphs">− 13</text><text x="670.6" y="490.5" class="cb" textLength="24.8" lengthAdjust="spacingAndGlyphs">− 15</text><text x="670.6" y="509.1" class="cb" textLength="24.8" lengthAdjust="spacingAndGlyphs">− 17</text><text x="663.8" y="528.2" class="cb" textLength="35.6" lengthAdjust="spacingAndGlyphs">(st. C)</text>
<rect x="516.5" y="51" width="102" height="41.5" fill="#fff" stroke="#000" stroke-width="1"/><text x="529.6" y="78.4" class="dh" textLength="14.6" lengthAdjust="spacingAndGlyphs">©</text><text x="547.8" y="78.4" class="dh" textLength="58.0" lengthAdjust="spacingAndGlyphs">DHMZ</text><rect x="120" y="465" width="135.5" height="65" fill="#fff"/><rect x="120" y="465" width="136" height="1" fill="#000"/><rect x="255" y="465" width="1" height="65" fill="#000"/><text x="148.3" y="483.2" class="lg" textLength="100.1" lengthAdjust="spacingAndGlyphs">Temperatura zraka</text><text x="172.4" y="496.4" class="lg" textLength="76.0" lengthAdjust="spacingAndGlyphs">na 2m (st. C)</text><text x="140.4" y="510.0" class="lg" textLength="108.0" lengthAdjust="spacingAndGlyphs">start 00z04dec2013</text><text x="129.0" y="523.7" class="lg" textLength="119.4" lengthAdjust="spacingAndGlyphs">termin 21Z05DEC2013</text>
</svg>
</body></html>
